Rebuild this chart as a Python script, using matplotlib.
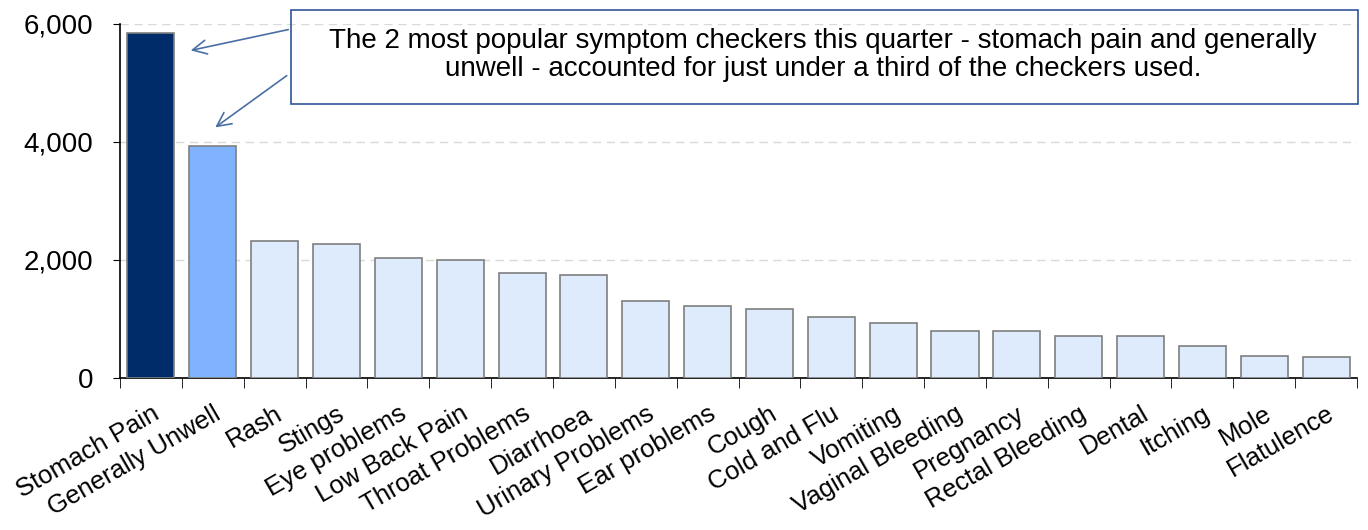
import matplotlib

matplotlib.use("Agg")

import matplotlib.pyplot as plt
from matplotlib.ticker import FuncFormatter
import numpy as np

plt.rcParams["font.family"] = ["Liberation Sans", "DejaVu Sans"]

categories = [
    "Stomach Pain", "Generally Unwell", "Rash", "Stings", "Eye problems",
    "Low Back Pain", "Throat Problems", "Diarrhoea", "Urinary Problems",
    "Ear problems", "Cough", "Cold and Flu", "Vomiting", "Vaginal Bleeding",
    "Pregnancy", "Rectal Bleeding", "Dental", "Itching", "Mole", "Flatulence",
]
counts = [
    5840, 3930, 2330, 2265, 2040, 1995, 1780, 1740, 1305, 1215,
    1170, 1040, 930, 800, 800, 715, 715, 540, 375, 350,
]
note = ("The 2 most popular symptom checkers this quarter - stomach pain and generally\n"
        "unwell - accounted for just under a third of the checkers used.")

colors = ["#002D6A", "#7FB3FF"] + ["#DDEBFD"] * (len(categories) - 2)

fig = plt.figure(figsize=(13.68, 5.30), dpi=100)
ax = fig.add_axes([0.0877, 0.2868, 0.9043, 0.668])

x = np.arange(len(categories))
ax.bar(x, counts, width=0.76, color=colors, edgecolor="#7F7F7F", linewidth=1.2, zorder=3)

ax.set_xlim(-0.5, len(categories) - 0.5)
ax.set_ylim(0, 6000)
ax.set_yticks([0, 2000, 4000, 6000])
ax.yaxis.set_major_formatter(FuncFormatter(lambda v, p: f"{int(v):,}"))
ax.tick_params(axis="y", labelsize=20, length=5, direction="out", pad=14)
ax.grid(axis="y", linestyle=(0, (6, 4)), color="#D9D9D9", linewidth=1, zorder=0)

ax.set_xticks(x)
ax.set_xticklabels(categories, rotation=30, ha="right", rotation_mode="anchor", fontsize=18.5)
ax.tick_params(axis="x", which="major", length=0, pad=17)
ax.set_xticks(np.arange(-0.5, len(categories)), minor=True)
ax.tick_params(axis="x", which="minor", length=7, direction="out")

for side in ["top", "right"]:
    ax.spines[side].set_visible(False)
for side in ["left", "bottom"]:
    ax.spines[side].set_linewidth(1.2)

# annotation box
fig.text(0.6016, 0.896, note, ha="center", va="center", fontsize=20,
         linespacing=1.12, transform=fig.transFigure)
box = plt.Rectangle((291 / 1368, 1 - 104 / 530), (1358 - 291) / 1368, 94 / 530,
                    transform=fig.transFigure, fill=False, edgecolor="#2F5597",
                    linewidth=1.2)
fig.patches.append(box)

arrow_style = dict(arrowstyle="->", color="#4A6FA5", linewidth=1.2, mutation_scale=25)
ax.annotate("", xy=(188 / 1368, 1 - 51 / 530), xytext=(291 / 1368, 1 - 29 / 530),
            xycoords="figure fraction", textcoords="figure fraction",
            arrowprops=arrow_style)
ax.annotate("", xy=(213 / 1368, 1 - 129 / 530), xytext=(289 / 1368, 1 - 74 / 530),
            xycoords="figure fraction", textcoords="figure fraction",
            arrowprops=arrow_style)

fig.savefig("out.png", dpi=100)
